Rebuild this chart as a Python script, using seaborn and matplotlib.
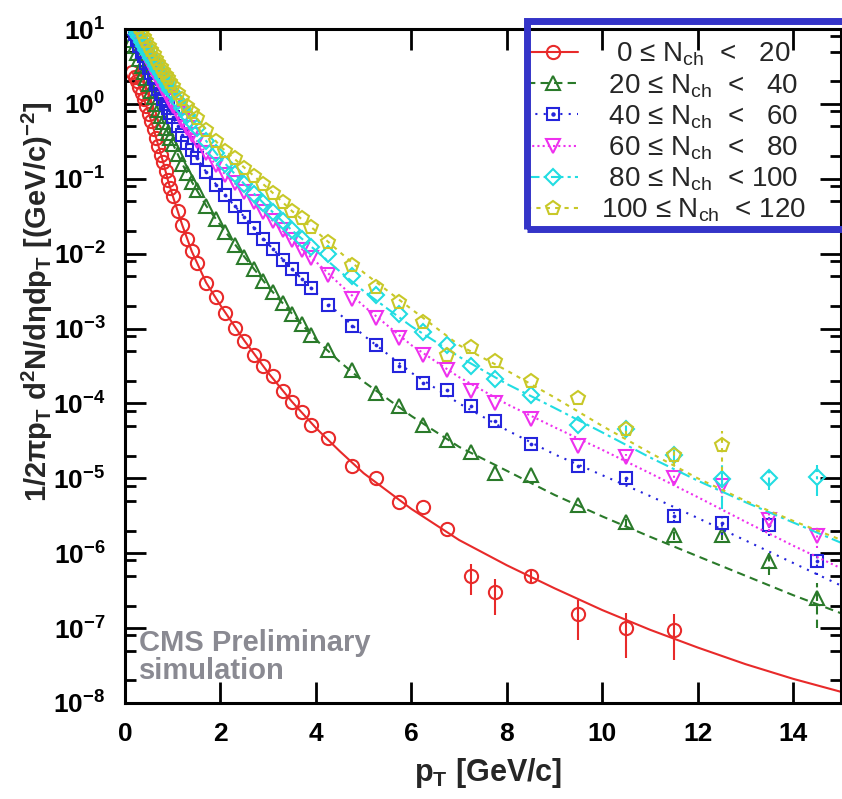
import numpy as np
import matplotlib
matplotlib.use("Agg")
import matplotlib.pyplot as plt
from matplotlib.lines import Line2D
from matplotlib.patches import Rectangle
from matplotlib.legend_handler import HandlerTuple
from matplotlib.ticker import FixedLocator, LogLocator, NullFormatter, NullLocator
import seaborn as sns

# ---------------- data ----------------
pt_bins = [0.15, 0.2, 0.25, 0.3, 0.35, 0.4, 0.45, 0.5, 0.55, 0.6, 0.65, 0.7, 0.75, 0.8, 0.85,
           0.9, 0.95, 1.0, 1.1, 1.2, 1.3, 1.4, 1.5, 1.7, 1.9, 2.1, 2.3, 2.5, 2.7, 2.9, 3.1, 3.3,
           3.5, 3.7, 3.9, 4.25, 4.75, 5.25, 5.75, 6.25, 6.75, 7.25, 7.75, 8.5, 9.5, 10.5, 11.5,
           12.5, 13.5, 14.5]
nan = float("nan")

y_0_20 = [2.7, 2.3, 2.0, 1.7, 1.4, 1.15, 0.93, 0.74, 0.59, 0.46, 0.35, 0.275, 0.21, 0.166, 0.126,
          0.095, 0.076, 0.059, 0.037, 0.024, 0.0158, 0.0107, 0.0076, 0.0040, 0.0026, 0.00162,
          0.00102, 6.8e-4, 4.5e-4, 3.2e-4, 2.3e-4, 1.45e-4, 1.05e-4, 7.6e-5, 5.1e-5, 3.5e-5,
          1.48e-5, 1.02e-5, 4.8e-6, 4.2e-6, 2.1e-6, 5.0e-7, 3.0e-7, 5.0e-7, 1.55e-7, 1.0e-7,
          9.5e-8, nan, nan, nan]
y_20_40 = [7.1, 5.9, 4.8, 4.0, 3.2, 2.7, 2.2, 1.82, 1.48, 1.23, 1.0, 0.83, 0.69, 0.575, 0.48,
           0.41, 0.35, 0.295, 0.214, 0.158, 0.120, 0.091, 0.071, 0.0437, 0.0288, 0.0195, 0.0132,
           0.0091, 0.0062, 0.00437, 0.0031, 0.00219, 0.00158, 0.00115, 8.3e-4, 5.1e-4, 2.8e-4,
           1.38e-4, 9.3e-5, 5.1e-5, 3.3e-5, 2.24e-5, 1.17e-5, 1.12e-5, 4.4e-6, 2.6e-6, 1.74e-6,
           1.74e-6, 7.8e-7, 2.5e-7]
y_40_60 = [10.0, 8.5, 7.1, 6.0, 5.0, 4.3, 3.55, 3.0, 2.57, 2.19, 1.86, 1.58, 1.35, 1.17, 1.0,
           0.87, 0.76, 0.66, 0.50, 0.39, 0.30, 0.24, 0.19, 0.123, 0.083, 0.060, 0.043, 0.031,
           0.0219, 0.0158, 0.0115, 0.0083, 0.0062, 0.00457, 0.00347, 0.00209, 0.00107, 6.0e-4,
           3.2e-4, 1.86e-4, 1.51e-4, 9.3e-5, 5.9e-5, 2.9e-5, 1.45e-5, 1.0e-5, 3.1e-6, 2.5e-6,
           2.4e-6, 7.8e-7]
y_60_80 = [10.5, 9.1, 7.9, 6.8, 5.9, 5.0, 4.4, 3.7, 3.2, 2.75, 2.4, 2.09, 1.82, 1.58, 1.41,
           1.23, 1.10, 0.95, 0.76, 0.60, 0.48, 0.39, 0.316, 0.219, 0.155, 0.112, 0.089, 0.066,
           0.049, 0.036, 0.027, 0.0209, 0.0151, 0.0112, 0.0087, 0.0052, 0.00251, 0.00138, 7.4e-4,
           4.5e-4, 2.8e-4, 1.48e-4, 1.02e-4, 6.2e-5, 2.7e-5, 1.9e-5, 1.02e-5, 7.9e-6, 2.8e-6,
           1.7e-6]
y_80_100 = [11.2, 10.0, 8.7, 7.8, 6.8, 6.0, 5.25, 4.7, 4.1, 3.63, 3.16, 2.82, 2.51, 2.19, 1.95,
            1.74, 1.55, 1.38, 1.10, 0.87, 0.71, 0.575, 0.47, 0.32, 0.224, 0.158, 0.115, 0.085,
            0.063, 0.047, 0.0355, 0.027, 0.0204, 0.0158, 0.0123, 0.0100, 0.0050, 0.0028, 0.00158,
            9.1e-4, 6.0e-4, 3.16e-4, 2.14e-4, 1.29e-4, 5.1e-5, 4.6e-5, 2.04e-5, 9.8e-6, 1.0e-5,
            1.05e-5]
y_100_120 = [15.1, 13.5, 11.7, 10.5, 9.1, 7.9, 6.9, 6.0, 5.25, 4.57, 4.0, 3.55, 3.1, 2.75, 2.45,
             2.19, 1.95, 1.74, 1.41, 1.15, 0.93, 0.78, 0.65, 0.45, 0.316, 0.234, 0.19, 0.141,
             0.110, 0.085, 0.065, 0.049, 0.037, 0.0295, 0.0229, 0.0145, 0.0071, 0.0036, 0.00229,
             0.00123, 4.5e-4, 5.6e-4, 3.7e-4, 2.0e-4, 1.2e-4, 4.5e-5, 2.04e-5, 2.8e-5, nan, nan]

# relative errors of the last nine bins (7.25 ... 14.5 GeV/c)
err_0_20 = [0.45, 0.5, 0.2, 0.55, 0.6, 0.6, 0.0, 0.0, 0.0]
err_20_40 = [0.0, 0.0, 0.0, 0.0, 0.1, 0.15, 0.15, 0.35, 0.6]
err_40_60 = [0.0, 0.0, 0.0, 0.0, 0.1, 0.15, 0.3, 0.3, 0.35]
err_60_80 = [0.0, 0.0, 0.0, 0.0, 0.1, 0.15, 0.3, 0.3, 0.3]
err_80_100 = [0.0, 0.0, 0.0, 0.0, 0.1, 0.2, 0.6, 0.3, 0.45]
err_100_120 = [0.0, 0.0, 0.0, 0.0, 0.15, 0.25, 0.55, 0.0, 0.0]

# fit curves
curve_pt = [0.15, 0.2, 0.3, 0.4, 0.5, 0.6, 0.7, 0.8, 0.9, 1.0, 1.2, 1.4, 1.7, 2.0, 2.5, 3.0, 3.5,
            4.0, 4.5, 5.0, 6.0, 7.0, 8.0, 9.0, 10.0, 11.0, 12.0, 13.0, 14.0, 15.0]
fit_0_20 = [2.7, 2.3, 1.7, 1.15, 0.74, 0.46, 0.275, 0.166, 0.095, 0.059, 0.024, 0.0107, 0.0041,
            0.00204, 6.9e-4, 2.57e-4, 1.05e-4, 4.7e-5, 2.3e-5, 1.17e-5, 3.9e-6, 1.5e-6, 6.9e-7,
            3.4e-7, 1.74e-7, 9.5e-8, 5.5e-8, 3.3e-8, 2.1e-8, 1.41e-8]
fit_20_40 = [7.1, 5.9, 4.0, 2.7, 1.82, 1.23, 0.83, 0.575, 0.41, 0.295, 0.158, 0.091, 0.0437,
             0.024, 0.0091, 0.0036, 0.00158, 7.1e-4, 3.6e-4, 1.95e-4, 6.8e-5, 2.63e-5, 1.26e-5,
             6.0e-6, 3.1e-6, 1.66e-6, 9.1e-7, 5.0e-7, 2.75e-7, 1.58e-7]
fit_40_60 = [10.0, 8.5, 6.0, 4.3, 3.0, 2.19, 1.58, 1.17, 0.87, 0.66, 0.39, 0.24, 0.123, 0.071,
             0.031, 0.0135, 0.0062, 0.0030, 0.00155, 8.1e-4, 2.57e-4, 1.0e-4, 4.4e-5, 2.09e-5,
             1.1e-5, 5.8e-6, 2.95e-6, 1.48e-6, 7.4e-7, 3.7e-7]
fit_60_80 = [10.5, 9.1, 6.8, 5.0, 3.7, 2.75, 2.09, 1.58, 1.23, 0.95, 0.60, 0.39, 0.219, 0.132,
             0.066, 0.0316, 0.0151, 0.0078, 0.0039, 0.0020, 6.0e-4, 2.24e-4, 9.8e-5, 4.8e-5,
             2.4e-5, 1.17e-5, 5.6e-6, 2.63e-6, 1.26e-6, 6.3e-7]
fit_80_100 = [11.2, 10.0, 7.8, 6.0, 4.7, 3.63, 2.82, 2.19, 1.74, 1.38, 0.87, 0.575, 0.32, 0.186,
              0.085, 0.041, 0.0204, 0.011, 0.0058, 0.00316, 0.00107, 4.2e-4, 1.82e-4, 8.7e-5,
              4.1e-5, 1.9e-5, 9.3e-6, 4.8e-6, 2.57e-6, 1.38e-6]
fit_100_120 = [15.1, 13.5, 10.5, 7.9, 6.0, 4.57, 3.55, 2.75, 2.19, 1.74, 1.15, 0.78, 0.45, 0.27,
               0.141, 0.074, 0.037, 0.020, 0.0105, 0.0056, 0.00182, 6.0e-4, 2.75e-4, 1.2e-4,
               5.0e-5, 2.19e-5, 1.0e-5, 5.0e-6, 2.7e-6, 1.51e-6]

series_labels = ["  0 \u2264 N$_\\mathregular{ch}$  <   20",
                 " 20 \u2264 N$_\\mathregular{ch}$  <   40",
                 " 40 \u2264 N$_\\mathregular{ch}$  <   60",
                 " 60 \u2264 N$_\\mathregular{ch}$  <   80",
                 " 80 \u2264 N$_\\mathregular{ch}$  < 100",
                 "100 \u2264 N$_\\mathregular{ch}$  < 120"]
x_tick_values = [0, 2, 4, 6, 8, 10, 12, 14]
y_tick_exponents = [-8, -7, -6, -5, -4, -3, -2, -1, 0, 1]

# ---------------- styling ----------------
sns.set_style("ticks")
plt.rcParams["font.family"] = ["Liberation Sans", "DejaVu Sans"]
plt.rcParams["mathtext.fontset"] = "custom"
plt.rcParams["mathtext.rm"] = "Liberation Sans"
plt.rcParams["mathtext.it"] = "Liberation Sans:italic"
plt.rcParams["mathtext.bf"] = "Liberation Sans:bold"

points = [y_0_20, y_20_40, y_40_60, y_60_80, y_80_100, y_100_120]
fits = [fit_0_20, fit_20_40, fit_40_60, fit_60_80, fit_80_100, fit_100_120]
errs = [err_0_20, err_20_40, err_40_60, err_60_80, err_80_100, err_100_120]
styles = [
    dict(color="#e82a2a", ls="-", marker="o", ms=9.5, dot=False),
    dict(color="#2a7a2a", ls=(0, (4, 2.5)), marker="^", ms=9.5, dot=False),
    dict(color="#2424dc", ls=(0, (1, 3)), marker="s", ms=9, dot=True),
    dict(color="#ee30ee", ls=(0, (1, 1.5)), marker="v", ms=9.5, dot=False),
    dict(color="#22dde2", ls=(0, (6, 2, 1.5, 2)), marker="D", ms=8, dot=False),
    dict(color="#c8c828", ls=(0, (2, 2.5)), marker="p", ms=10, dot=False),
]

fig = plt.figure(figsize=(8.42, 7.99), dpi=100)
ax = fig.add_axes([125 / 842, 1 - 703 / 799, 716 / 842, 674 / 799])
ax.set_yscale("log")
ax.set_xlim(0, 15)
ax.set_ylim(1e-8, 10)

pt_arr = np.array(pt_bins)
for yv, fv, ev, st in zip(points, fits, errs, styles):
    c = st["color"]
    sns.lineplot(x=curve_pt, y=fv, ax=ax, color=c, linestyle=st["ls"], linewidth=1.5,
                 estimator=None, sort=False)
    y_arr = np.array(yv, dtype=float)
    mask = ~np.isnan(y_arr)
    sns.lineplot(x=pt_arr[mask], y=y_arr[mask], ax=ax, color=c, linestyle="none",
                 marker=st["marker"], markersize=st["ms"], markerfacecolor="none",
                 markeredgecolor=c, markeredgewidth=1.5, estimator=None, sort=False)
    if st["dot"]:
        sns.lineplot(x=pt_arr[mask], y=y_arr[mask], ax=ax, color=c, linestyle="none",
                     marker="o", markersize=2.2, markerfacecolor=c, markeredgecolor=c,
                     markeredgewidth=0.5, estimator=None, sort=False)
    e_arr = np.array(ev)
    xe = pt_arr[-9:]
    ye = y_arr[-9:]
    sel = (e_arr > 0) & ~np.isnan(ye)
    if sel.any():
        cont = ax.errorbar(xe[sel], ye[sel], yerr=ye[sel] * e_arr[sel], fmt="none",
                           ecolor=c, elinewidth=1.5, capsize=0)
        for lc in cont.lines[2]:
            lc.set_linestyle(st["ls"])

# axes / ticks
for sp in ax.spines.values():
    sp.set_linewidth(2.2)
    sp.set_color("black")
ax.xaxis.set_major_locator(FixedLocator(x_tick_values))
ax.set_xticklabels([str(v) for v in x_tick_values], fontweight="bold")
ax.xaxis.set_minor_locator(NullLocator())
ax.yaxis.set_major_locator(FixedLocator([10.0 ** e for e in y_tick_exponents]))
ax.set_yticklabels([r"$\mathregular{10^{%d}}$" % e for e in y_tick_exponents], fontweight="bold")
ax.yaxis.set_minor_locator(LogLocator(base=10, subs=(2, 5, 8), numticks=30))
ax.yaxis.set_minor_formatter(NullFormatter())
ax.tick_params(which="both", direction="in", top=True, right=True, width=2.0, colors="black")
ax.tick_params(which="major", length=15, labelsize=19)
ax.tick_params(which="minor", length=8)
ax.tick_params(axis="x", which="major", pad=14)
ax.tick_params(axis="y", which="major", pad=14)

# axis titles
fig.text(488 / 842, 1 - 773 / 799, r"p$_\mathregular{T}$ [GeV/c]", ha="center", va="center",
         fontsize=22, fontweight="bold")
fig.text(37 / 842, 1 - 302 / 799,
         r"1/2$\mathregular{\pi}$p$_\mathregular{T}$ d$^\mathregular{2}$N/d$\mathregular{\eta}$dp$_\mathregular{T}$ [(GeV/c)$^\mathregular{-2}$]",
         ha="center", va="center", rotation=90, fontsize=21, fontweight="bold")

# annotation
ax.text(0.3, 10 ** -7.2, "CMS Preliminary", color="#8a8a92", fontsize=21, fontweight="bold",
        ha="left", va="center")
ax.text(0.3, 10 ** -7.57, "simulation", color="#8a8a92", fontsize=21, fontweight="bold",
        ha="left", va="center")

# legend
handles = []
for st in styles:
    h = Line2D([], [], color=st["color"], linestyle=st["ls"], linewidth=1.5,
               marker=st["marker"], markersize=st["ms"], markerfacecolor="none",
               markeredgecolor=st["color"], markeredgewidth=1.5)
    if st["dot"]:
        d = Line2D([], [], color=st["color"], linestyle="none", marker="o", markersize=2.2,
                   markerfacecolor=st["color"], markeredgecolor=st["color"])
        handles.append((h, d))
    else:
        handles.append(h)
ax.legend(handles, series_labels, loc="upper left", bbox_to_anchor=(527 / 842, 1 - 41 / 799),
          bbox_transform=fig.transFigure, frameon=False, fontsize=20, handlelength=1.85,
          handletextpad=0.8, labelspacing=0.13, borderpad=0, borderaxespad=0,
          handler_map={tuple: HandlerTuple(ndivide=1, pad=0)})

# blue highlight box around the legend
fig.add_artist(Rectangle((526.5 / 842, 1 - 228.5 / 799), (850 - 526.5) / 842, 208 / 799,
                         transform=fig.transFigure, fill=False, edgecolor="#3434c8",
                         linewidth=5.0, clip_on=False, zorder=10))

fig.savefig("out.png", dpi=100)
